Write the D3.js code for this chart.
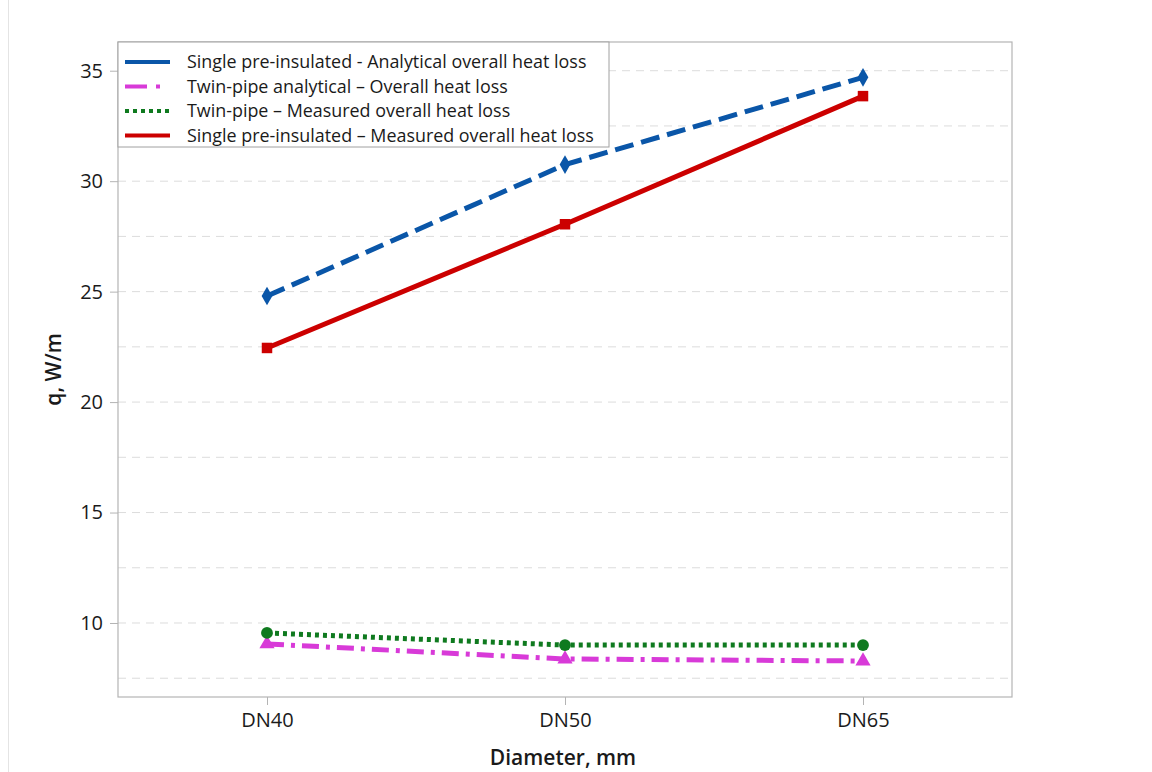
<!DOCTYPE html>
<html>
<head>
<meta charset="utf-8">
<script src="https://cdn.jsdelivr.net/npm/d3@7"></script>
<style>
body { margin: 0; background: #fff; }
svg { font-family: "Open Sans", "Noto Sans", sans-serif; }
.grid line { stroke: #dcdcdc; stroke-dasharray: 8,6; }
</style>
</head>
<body>
<svg width="1152" height="772"></svg>
<script>
var categories = ["DN40", "DN50", "DN65"];
var singleAnalytical = [24.8, 30.75, 34.7];
var twinAnalytical = [9.05, 8.37, 8.28];
var twinMeasured = [9.55, 9.0, 9.0];
var singleMeasured = [22.45, 28.05, 33.85];
var yTicks = [10, 15, 20, 25, 30, 35];
var yGrid = [7.5, 10, 12.5, 15, 17.5, 20, 22.5, 25, 27.5, 30, 32.5, 35];

var series = [
    {name: "Single pre-insulated - Analytical overall heat loss", values: singleAnalytical,
     color: "#0a56a8", dash: "19,8", marker: d3.symbolDiamond, msize: 100},
    {name: "Twin-pipe analytical \u2013 Overall heat loss", values: twinAnalytical,
     color: "#d83ad8", dash: "17,7,4,7", marker: d3.symbolTriangle, msize: 100},
    {name: "Twin-pipe \u2013 Measured overall heat loss", values: twinMeasured,
     color: "#0f7a1f", dash: "4,4", marker: d3.symbolCircle, msize: 110},
    {name: "Single pre-insulated \u2013 Measured overall heat loss", values: singleMeasured,
     color: "#cc0000", dash: null, marker: d3.symbolSquare, msize: 110}
];

var svg = d3.select("svg");
var pLeft = 118, pRight = 1012, pTop = 42, pBottom = 697;

var x = d3.scalePoint().domain(categories).range([pLeft, pRight]).padding(0.5);
var y = d3.scaleLinear().domain([6.65, 36.3]).range([pBottom, pTop]);

// faint page border line on the left
svg.append("line").attr("x1", 8.5).attr("x2", 8.5).attr("y1", 0).attr("y2", 772)
    .attr("stroke", "#e4e4e4");

// grid
svg.append("g").attr("class", "grid")
    .selectAll("line").data(yGrid).enter().append("line")
    .attr("x1", pLeft).attr("x2", pRight)
    .attr("y1", function(d) { return y(d); }).attr("y2", function(d) { return y(d); });

// frame
svg.append("rect").attr("x", pLeft).attr("y", pTop)
    .attr("width", pRight - pLeft).attr("height", pBottom - pTop)
    .attr("fill", "none").attr("stroke", "#b4b4b4").attr("stroke-width", 1.2);

// axes
var yAxis = svg.append("g").attr("transform", "translate(" + pLeft + ",0)")
    .call(d3.axisLeft(y).tickValues(yTicks).tickSize(8).tickPadding(7));
var xAxis = svg.append("g").attr("transform", "translate(0," + pBottom + ")")
    .call(d3.axisBottom(x).tickSize(8).tickPadding(8));
[yAxis, xAxis].forEach(function(a) {
    a.select(".domain").remove();
    a.selectAll(".tick line").attr("stroke", "#b4b4b4");
    a.selectAll("text").attr("font-size", 20).attr("fill", "#1a1a1a")
        .attr("font-weight", 500).attr("font-family", "'Open Sans', sans-serif");
});

svg.append("text").attr("transform", "translate(61," + ((pTop + pBottom) / 2) + ") rotate(-90)")
    .attr("text-anchor", "middle").attr("font-size", 21).attr("font-weight", 600)
    .attr("fill", "#1a1a1a").text("q, W/m");
svg.append("text").attr("x", 563).attr("y", 765)
    .attr("text-anchor", "middle").attr("font-size", 21).attr("font-weight", 600)
    .attr("fill", "#1a1a1a").text("Diameter, mm");

// lines
var line = d3.line().x(function(d, i) { return x(categories[i]); }).y(function(d) { return y(d); });
series.forEach(function(s) {
    svg.append("path").datum(s.values)
        .attr("d", line).attr("fill", "none")
        .attr("stroke", s.color).attr("stroke-width", 5)
        .attr("stroke-dasharray", s.dash);
    svg.append("g").selectAll("path").data(s.values).enter().append("path")
        .attr("transform", function(d, i) { return "translate(" + x(categories[i]) + "," + y(d) + ")"; })
        .attr("d", d3.symbol().type(s.marker).size(s.msize))
        .attr("fill", s.color);
});

// legend
var lg = svg.append("g");
lg.append("rect").attr("x", pLeft).attr("y", pTop).attr("width", 491).attr("height", 105)
    .attr("fill", "#fff").attr("stroke", "#a0a0a0").attr("stroke-width", 1);
series.forEach(function(s, i) {
    var yy = pTop + 20 + i * 24.5;
    lg.append("line").attr("x1", 125).attr("x2", 170).attr("y1", yy).attr("y2", yy)
        .attr("stroke", s.color).attr("stroke-width", 4)
        .attr("stroke-dasharray", i == 1 ? "22,9,4,20" : (i == 2 ? "4,4" : null));
    lg.append("text").attr("x", 187).attr("y", yy + 6)
        .attr("font-size", 17.9).attr("fill", "#1a1a1a").text(s.name);
});
</script>
</body>
</html>
